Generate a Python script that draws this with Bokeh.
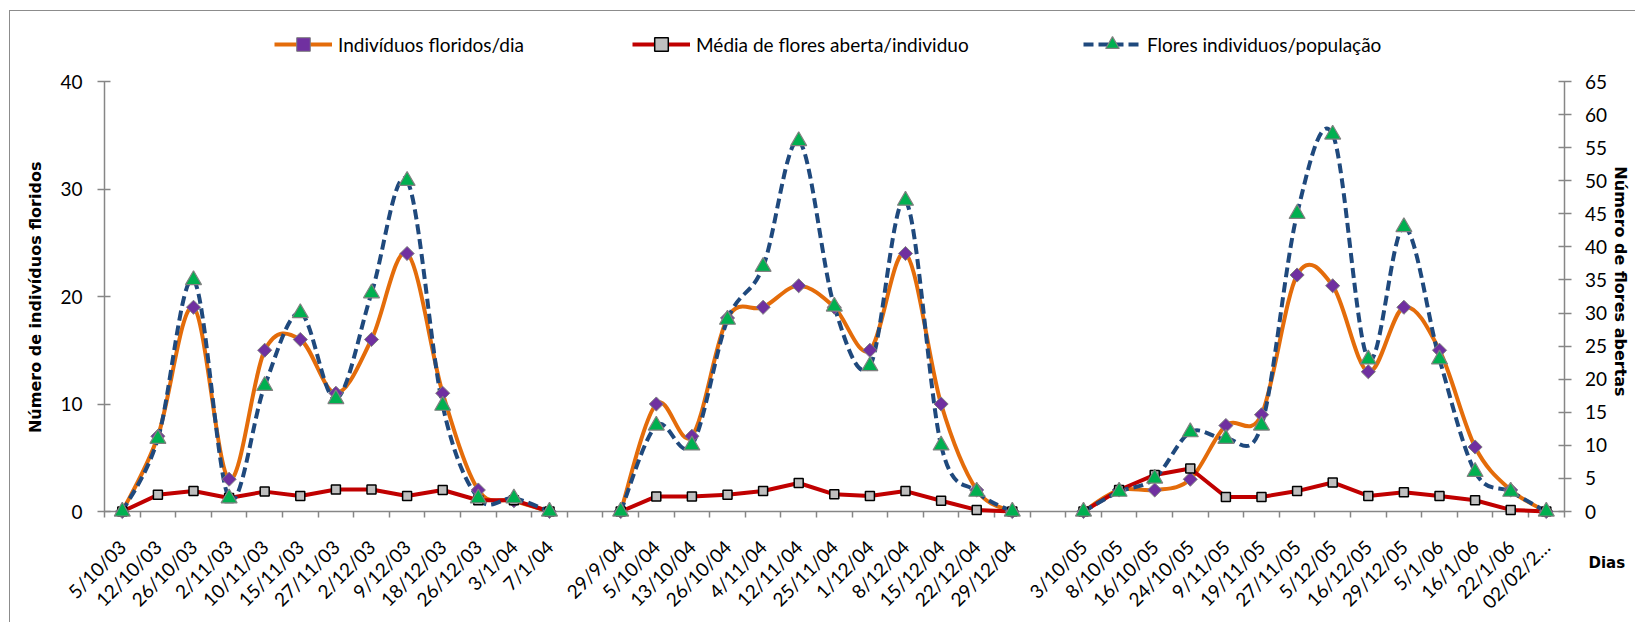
import math
from bokeh.plotting import figure
from bokeh.models import (Range1d, LinearAxis, FixedTicker, Legend, LegendItem,
                          Label, ColumnDataSource)
from bokeh.embed import file_html
from bokeh.resources import INLINE

# ---------------- data ----------------
dates_2003 = ["5/10/03", "12/10/03", "26/10/03", "2/11/03", "10/11/03", "15/11/03",
              "27/11/03", "2/12/03", "9/12/03", "18/12/03", "26/12/03", "3/1/04", "7/1/04"]
dates_2004 = ["29/9/04", "5/10/04", "13/10/04", "26/10/04", "4/11/04", "12/11/04",
              "25/11/04", "1/12/04", "8/12/04", "15/12/04", "22/12/04", "29/12/04"]
dates_2005 = ["3/10/05", "8/10/05", "16/10/05", "24/10/05", "9/11/05", "19/11/05",
              "27/11/05", "5/12/05", "16/12/05", "29/12/05", "5/1/06", "16/1/06",
              "22/1/06", "02/02/2\u2026"]

individuos_2003 = [0, 7, 19, 3, 15, 16, 11, 16, 24, 11, 2, 1, 0]
individuos_2004 = [0, 10, 7, 18, 19, 21, 19, 15, 24, 10, 2, 0]
individuos_2005 = [0, 2, 2, 3, 8, 9, 22, 21, 13, 19, 15, 6, 2, 0]

media_2003 = [0, 1.55, 1.9, 1.25, 1.85, 1.45, 2.05, 2.05, 1.45, 2.0, 1.05, 1.05, 0]
media_2004 = [0, 1.4, 1.4, 1.55, 1.9, 2.65, 1.6, 1.45, 1.9, 1.0, 0.15, 0]
media_2005 = [0, 2.0, 3.4, 4.0, 1.35, 1.35, 1.9, 2.7, 1.45, 1.8, 1.45, 1.05, 0.15, 0]

flores_2003 = [0, 11, 35, 2, 19, 30, 17, 33, 50, 16, 2, 2, 0]
flores_2004 = [0, 13, 10, 29, 37, 56, 31, 22, 47, 10, 3, 0]
flores_2005 = [0, 3, 5, 12, 11, 13, 45, 57, 23, 43, 23, 6, 3, 0]

series_names = ["Indivíduos floridos/dia", "Média de flores aberta/individuo",
                "Flores individuos/população"]
left_title = "Número de indivíduos  floridos"
right_title = "Número de flores abertas"
x_title = "Dias"

left_max = 40
right_max = 65
left_ticks = [0, 10, 20, 30, 40]
right_ticks = [0, 5, 10, 15, 20, 25, 30, 35, 40, 45, 50, 55, 60, 65]

# ---------------- category positions (one blank slot between seasons) ----
date_groups = [dates_2003, dates_2004, dates_2005]
ind_groups = [individuos_2003, individuos_2004, individuos_2005]
med_groups = [media_2003, media_2004, media_2005]
flo_groups = [flores_2003, flores_2004, flores_2005]

categories = []
x_groups = []
for g, dates in enumerate(date_groups):
    if g > 0:
        categories.append("")
    start = len(categories)
    categories.extend(dates)
    x_groups.append(list(range(start, start + len(dates))))
n_cat = len(categories)


def smooth_segments(xg, yg):
    """Catmull-Rom style cubic Bezier segments (Excel 'smoothed line')."""
    d = dict(x0=[], y0=[], x1=[], y1=[], cx0=[], cy0=[], cx1=[], cy1=[])
    for xs, ys in zip(xg, yg):
        n = len(xs)
        for i in range(n - 1):
            a = i - 1 if i > 0 else i
            b = i + 2 if i + 2 < n else i + 1
            d["x0"].append(xs[i]); d["y0"].append(ys[i])
            d["x1"].append(xs[i + 1]); d["y1"].append(ys[i + 1])
            d["cx0"].append(xs[i] + (xs[i + 1] - xs[a]) / 6)
            d["cy0"].append(ys[i] + (ys[i + 1] - ys[a]) / 6)
            d["cx1"].append(xs[i + 1] - (xs[b] - xs[i]) / 6)
            d["cy1"].append(ys[i + 1] - (ys[b] - ys[i]) / 6)
    return ColumnDataSource(d)


def flat(groups):
    return [v for g in groups for v in g]


# ---------------- layout constants (canvas pixels) ----------------
W, H = 1626, 612
AXIS_LEFT = 94              # left value axis
AXIS_TOP = 70               # pixel row of the top ticks (40 / 65)
AXIS_BOTTOM = 500           # pixel row of zero
PLOT_W = 1459.6             # width of the 41 category slots
px_per_left = (AXIS_BOTTOM - AXIS_TOP) / left_max
px_per_right = (AXIS_BOTTOM - AXIS_TOP) / right_max
px_per_cat = PLOT_W / n_cat

x_start = -0.5 - AXIS_LEFT / px_per_cat
x_end = -0.5 + (W - AXIS_LEFT) / px_per_cat
yl_start = -(H - AXIS_BOTTOM) / px_per_left
yl_end = left_max + AXIS_TOP / px_per_left
yr_start = -(H - AXIS_BOTTOM) / px_per_right
yr_end = right_max + AXIS_TOP / px_per_right

p = figure(width=W, height=H, output_backend="svg", toolbar_location=None,
           x_range=Range1d(x_start, x_end), y_range=Range1d(yl_start, yl_end),
           min_border_left=0, min_border_right=0, min_border_top=0,
           min_border_bottom=0)
p.styles = {"border-left": "1px solid #8c8c8c", "border-top": "1px solid #8c8c8c",
            "margin-left": "9px", "margin-top": "10px"}
p.extra_y_ranges = {"flores": Range1d(yr_start, yr_end)}
p.outline_line_color = None
p.xgrid.visible = False
p.ygrid.visible = False

AX = "#868686"
TICK_FONT = "Lato"
ORANGE = "#E46C0A"
RED = "#C00000"
BLUE = "#1F497D"
PURPLE = "#7030A0"
GREEN = "#00B050"

src_ind = smooth_segments(x_groups, ind_groups)
src_flo = smooth_segments(x_groups, flo_groups)

r_ind_line = p.bezier("x0", "y0", "x1", "y1", "cx0", "cy0", "cx1", "cy1",
                      source=src_ind, line_color=ORANGE, line_width=4)
r_med_line = p.multi_line(xs=x_groups, ys=med_groups, line_color=RED, line_width=4)
r_flo_line = p.bezier("x0", "y0", "x1", "y1", "cx0", "cy0", "cx1", "cy1",
                      source=src_flo, line_color=BLUE, line_width=4,
                      line_dash="10 5", y_range_name="flores")

r_ind_pts = p.scatter(flat(x_groups), flat(ind_groups), marker="square",
                      angle=math.pi / 4, size=10, fill_color=PURPLE,
                      line_color="#7F7F7F", line_width=1)
r_med_pts = p.scatter(flat(x_groups), flat(med_groups), marker="square", size=9,
                      fill_color="#BFBFBF", line_color="black", line_width=1.5)
r_flo_pts = p.scatter(flat(x_groups), flat(flo_groups), marker="triangle", size=16,
                      fill_color=GREEN, line_color="#808080", line_width=1.2,
                      y_range_name="flores")


def style_value_axis(ax):
    ax.axis_line_color = AX
    ax.axis_line_width = 1.5
    ax.major_tick_line_color = AX
    ax.major_tick_line_width = 1.5
    ax.major_tick_in = 6
    ax.major_tick_out = 7
    ax.minor_tick_line_color = None
    ax.major_label_text_font = TICK_FONT
    ax.major_label_text_font_size = "19px"
    ax.major_label_text_color = "black"


# ---------------- axes (all drawn at fixed positions inside the canvas) ----
yl = p.yaxis[0]
yl.ticker = FixedTicker(ticks=left_ticks)
yl.bounds = (0, left_max)
yl.fixed_location = -0.5
style_value_axis(yl)
yl.major_label_standoff = 15

yr = LinearAxis(y_range_name="flores", ticker=FixedTicker(ticks=right_ticks),
                bounds=(0, right_max), fixed_location=n_cat - 0.5)
style_value_axis(yr)
yr.major_label_standoff = 14
p.add_layout(yr, "right")

xa = p.xaxis[0]
centers = [i for i, c in enumerate(categories) if c]
boundaries = [i + 0.5 for i in range(-1, n_cat)]
xa.fixed_location = 0
xa.bounds = (-0.5, n_cat - 0.5)
xa.level = "underlay"
xa.ticker = FixedTicker(ticks=centers, minor_ticks=boundaries)
xa.major_label_overrides = {i: categories[i] for i in centers}
xa.axis_line_color = AX
xa.axis_line_width = 1.5
xa.major_tick_line_color = None
xa.major_tick_in = 0
xa.major_tick_out = 0
xa.minor_tick_line_color = AX
xa.minor_tick_line_width = 1.5
xa.minor_tick_in = 0
xa.minor_tick_out = 6
xa.major_label_orientation = math.pi / 4
xa.major_label_standoff = 26
xa.major_label_text_font = TICK_FONT
xa.major_label_text_font_size = "19px"
xa.major_label_text_color = "black"

# axis titles
title_style = dict(x_units="screen", y_units="screen", text_font="DejaVu Sans",
                   text_font_style="bold", text_color="black",
                   text_baseline="middle")
p.add_layout(Label(x=25, y=H - 283, text=left_title, angle=math.pi / 2,
                   text_align="center", text_font_size="16px", **title_style))
p.add_layout(Label(x=1610, y=H - 270, text=right_title, angle=-math.pi / 2,
                   text_align="center", text_font_size="16px", **title_style))
p.add_layout(Label(x=1578, y=H - 551, text=x_title, text_align="left",
                   text_font_size="15px", **title_style))

# ---------------- legend (one entry per box, placed like the original) ------
legend_x = [264, 622, 1073]
legend_renderers = [[r_ind_line, r_ind_pts], [r_med_line, r_med_pts],
                    [r_flo_line, r_flo_pts]]
for name, lx, rends in zip(series_names, legend_x, legend_renderers):
    p.add_layout(Legend(items=[LegendItem(label=name, renderers=rends)],
                        orientation="horizontal", location=(lx, H - 50),
                        padding=0, margin=0, glyph_width=58, glyph_height=34,
                        label_standoff=6, border_line_color=None,
                        background_fill_alpha=0, label_text_font=TICK_FONT,
                        label_text_font_size="19px", label_text_color="black"))

open("out.html", "w").write(file_html(p, INLINE))
